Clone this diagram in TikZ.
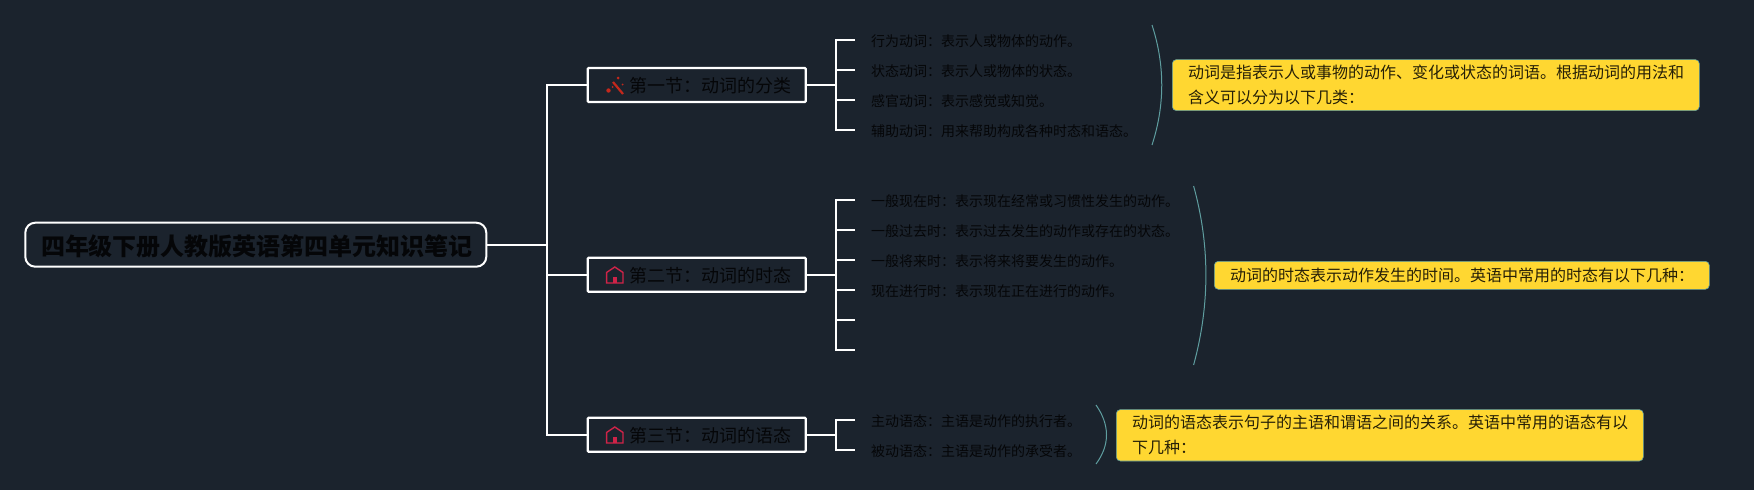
\documentclass[tikz,border=0pt]{standalone}
\usepackage{fontspec}
\setmainfont{Noto Sans CJK SC}
\definecolor{bgc}{HTML}{1B232D}
\definecolor{inkc}{HTML}{050608}
\definecolor{yel}{HTML}{FFD731}
\definecolor{tealc}{HTML}{5F9EA0}
\definecolor{redic}{HTML}{C4281C}
\definecolor{pinkic}{HTML}{CF2348}
\newcommand{\fc}{\char"FF1A\relax}
\tikzset{
  x=1pt,y=-1pt,
  conn/.style={draw=white,line width=2.2pt,line join=miter},
  rootbox/.style={draw=white,line width=2pt,rounded corners=10pt,minimum width=461pt,minimum height=44pt,inner sep=0pt,text=inkc},
  secbox/.style={draw=white,line width=2.2pt,rounded corners=1pt,minimum width=218pt,minimum height=34pt,inner sep=0pt},
  sectext/.style={anchor=west,inner sep=0pt,text=inkc,font=\fontsize{18}{22}\selectfont},
  leafnode/.style={anchor=west,inner xsep=16pt,inner ysep=0pt,text height=12.3pt,text depth=0.3pt,text=inkc,font=\fontsize{14}{18}\selectfont},
  notebox/.style={draw=tealc,line width=0.6pt,fill=yel,rounded corners=4pt,anchor=north west,inner sep=0pt},
  notetext/.style={anchor=west,inner sep=0pt,align=left,text=black!85!yel,font=\fontsize{16}{25}\selectfont},
  curveline/.style={draw=tealc,line width=1pt},
}
\newcommand{\houseicon}[2]{%
  \draw[pinkic,line width=1.4pt,line join=miter] (#1-8.2,#2+8) -- (#1-8.2,#2-2.5) -- (#1,#2-8) -- (#1+8.2,#2-2.5) -- (#1+8.2,#2+8) -- cycle;
  \fill[pinkic] (#1-2.2,#2+8) rectangle (#1+2.2,#2+1.5);
}
\begin{document}
\begin{tikzpicture}
\useasboundingbox (0,0) rectangle (1754,490);
\fill[bgc] (0,0) rectangle (1754,490);

\node[rootbox] (root) at (255.8,244.7) {};
\node[anchor=center,inner sep=0pt,text=inkc,font=\fontsize{24}{28}\selectfont\bfseries] (roott) at (257,246) {四年级下册人教版英语第四单元知识笔记};

\node[secbox] (s1) at (696.7,85) {};
\node[secbox] (s2) at (696.7,274.7) {};
\node[secbox] (s3) at (696.7,434.7) {};
\node[sectext] (t1) at (629,85.5) {第一节\fc{}动词的分类};
\node[sectext] (t2) at (629,275.2) {第二节\fc{}动词的时态};
\node[sectext] (t3) at (629,435.2) {第三节\fc{}动词的语态};

% wand icon
\draw[redic,line width=2.2pt] (613,82) -- (623,94);
\fill[redic] (608.5,90.5) circle (2.2pt);
\fill[redic] (618,78) circle (1.5pt);
\fill[redic] (622.5,84.5) circle (1pt);
\fill[redic] (612.5,87) circle (1pt);
\houseicon{614.8}{275}
\houseicon{614.8}{435}

\coordinate (b) at (547.3,0);
\draw[conn] (root.east) -- (b |- root.east);
\draw[conn] (s1.west) -- (b |- s1.west) -- (b |- s3.west) -- (s3.west);
\draw[conn] (b |- s2.west) -- (s2.west);

\node[leafnode] (l11) at (855,40) {行为动词\fc{}表示人或物体的动作。};
\node[leafnode] (l12) at (855,70) {状态动词\fc{}表示人或物体的状态。};
\node[leafnode] (l13) at (855,100) {感官动词\fc{}表示感觉或知觉。};
\node[leafnode] (l14) at (855,130) {辅助动词\fc{}用来帮助构成各种时态和语态。};
\node[leafnode] (l21) at (855,200) {一般现在时\fc{}表示现在经常或习惯性发生的动作。};
\node[leafnode] (l22) at (855,230) {一般过去时\fc{}表示过去发生的动作或存在的状态。};
\node[leafnode] (l23) at (855,260) {一般将来时\fc{}表示将来将要发生的动作。};
\node[leafnode] (l24) at (855,290) {现在进行时\fc{}表示现在正在进行的动作。};
\node[leafnode] (l25) at (855,320) {};
\node[leafnode] (l26) at (855,350) {};
\node[leafnode] (l31) at (855,420) {主动语态\fc{}主语是动作的执行者。};
\node[leafnode] (l32) at (855,450) {被动语态\fc{}主语是动作的承受者。};

\coordinate (c) at (836,0);
\draw[conn] (s1.east) -- (c |- s1.east);
\draw[conn] (l11.west) -- (c |- l11.west) -- (c |- l14.west) -- (l14.west);
\draw[conn] (l12.west) -- (c |- l12.west);
\draw[conn] (l13.west) -- (c |- l13.west);
\draw[conn] (s2.east) -- (c |- s2.east);
\draw[conn] (l21.west) -- (c |- l21.west) -- (c |- l26.west) -- (l26.west);
\draw[conn] (l22.west) -- (c |- l22.west);
\draw[conn] (l23.west) -- (c |- l23.west);
\draw[conn] (l24.west) -- (c |- l24.west);
\draw[conn] (l25.west) -- (c |- l25.west);
\draw[conn] (s3.east) -- (c |- s3.east);
\draw[conn] (l31.west) -- (c |- l31.west) -- (c |- l32.west) -- (l32.west);

\draw[curveline] (1152,25) .. controls (1165,65) and (1165,105) .. (1152,145);
\draw[curveline] (1193.6,186) .. controls (1210,245) and (1210,305) .. (1193.6,365);
\draw[curveline] (1096,405) .. controls (1110,425) and (1110,445) .. (1096,464);

\node[notebox,minimum width=527pt,minimum height=51pt] (n1) at (1172,59.3) {};
\node[notebox,minimum width=495pt,minimum height=28pt] (n2) at (1214,261) {};
\node[notebox,minimum width=527pt,minimum height=51.4pt] (n3) at (1116,409.3) {};
\node[notetext] (nt1) at (1188,84.8) {动词是指表示人或事物的动作、变化或状态的词语。根据动词的用法和\\含义可以分为以下几类\fc{}};
\node[notetext] (nt2) at (1230,275) {动词的时态表示动作发生的时间。英语中常用的时态有以下几种\fc{}};
\node[notetext] (nt3) at (1132,435) {动词的语态表示句子的主语和谓语之间的关系。英语中常用的语态有以\\下几种\fc{}};
\end{tikzpicture}
\end{document}
